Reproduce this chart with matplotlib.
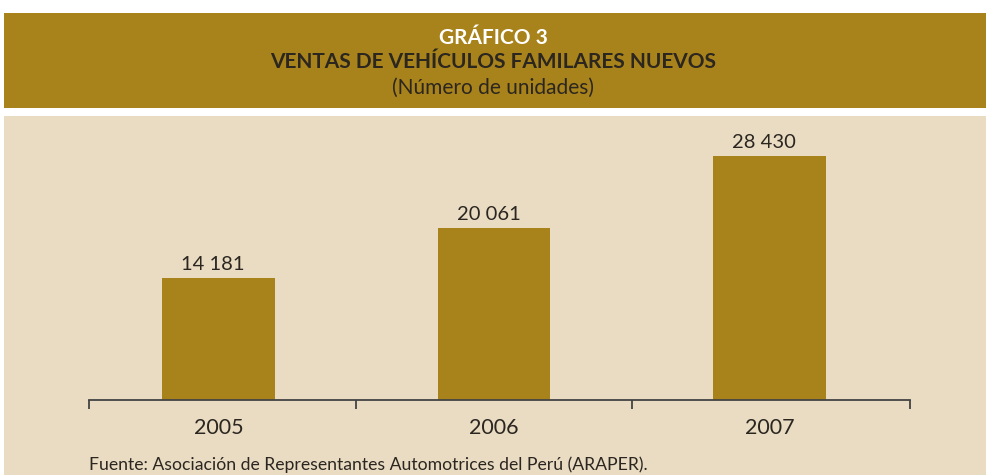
import matplotlib
matplotlib.use("Agg")
import matplotlib.pyplot as plt
from matplotlib.patches import Rectangle

years = ["2005", "2006", "2007"]
ventas = [14181, 20061, 28430]
etiquetas = ["14 181", "20 061", "28 430"]

gold = "#A8821A"
beige = "#E9DCC3"
dark = "#2b2620"

plt.rcParams["font.family"] = ["Lato", "DejaVu Sans"]

fig = plt.figure(figsize=(9.87, 4.75), dpi=100)
W, H = 987.0, 475.0

# header band and background panel
fig.patches.append(Rectangle((4 / W, 1 - 108 / H), 1, 95 / H, transform=fig.transFigure,
                             facecolor=gold, edgecolor="none", zorder=-5))
fig.patches.append(Rectangle((4 / W, 0), 1, 1 - 116 / H, transform=fig.transFigure,
                             facecolor=beige, edgecolor="none", zorder=-5))

fig.text(0.5, 1 - 38 / H, "GRÁFICO 3", color="white", fontsize=15, fontweight="bold",
         ha="center", va="center")
fig.text(0.5, 1 - 62 / H, "VENTAS DE VEHÍCULOS FAMILARES NUEVOS", color=dark, fontsize=15,
         fontweight="bold", ha="center", va="center")
fig.text(0.5, 1 - 88 / H, "(Número de unidades)", color=dark, fontsize=15,
         ha="center", va="center")

ax = fig.add_axes([89 / W, 75 / H, (910 - 89) / W, (400 - 130) / H])
ax.set_facecolor("none")
x = range(len(years))
bars = ax.bar(x, ventas, width=0.41, color=gold)
for b, lab in zip(bars, etiquetas):
    ax.text(b.get_x() + b.get_width() / 2 - 0.02, b.get_height() + 600, lab, ha="center",
            va="bottom", fontsize=14.5, color=dark)

ax.set_xlim(-0.47, 2.51)
ax.set_ylim(0, 31500)
for s in ["top", "left", "right"]:
    ax.spines[s].set_visible(False)
ax.spines["bottom"].set_color("#444444")
ax.spines["bottom"].set_linewidth(1.3)
ax.set_yticks([])
ax.set_xticks([-0.47, 0.5, 1.5, 2.51])
ax.set_xticklabels([])
ax.tick_params(axis="x", direction="out", length=6.5, width=1.3, color="#444444")
for i, y in enumerate(years):
    ax.text(i, -3300, y, ha="center", va="center", fontsize=15.5, color=dark)

fig.text(89 / W, 1 - 465 / H, "Fuente: Asociación de Representantes Automotrices del Perú (ARAPER).",
         fontsize=12.7, color=dark, ha="left", va="center")

fig.savefig("out.png", dpi=100)
